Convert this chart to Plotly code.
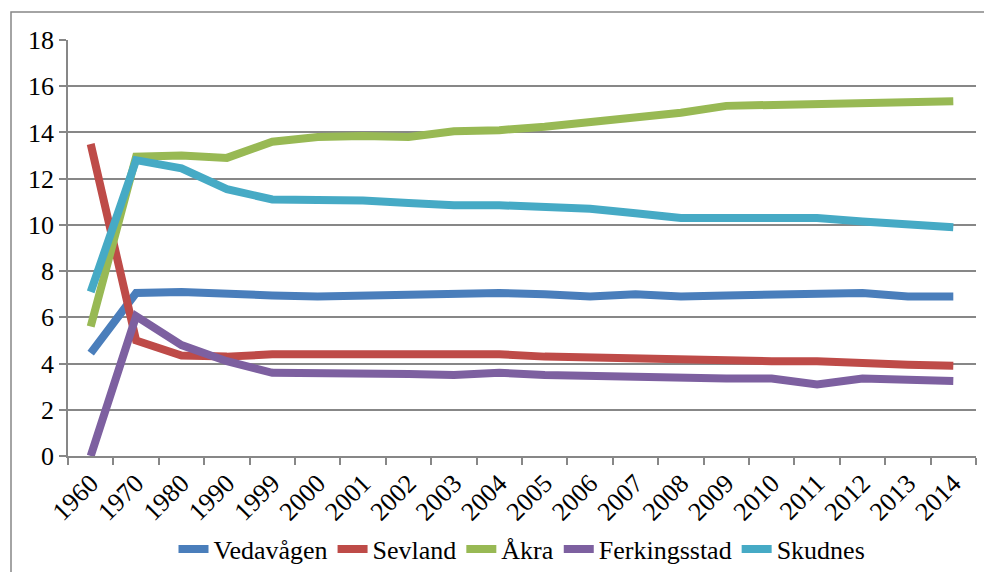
import plotly.graph_objects as go

years = ["1960", "1970", "1980", "1990", "1999", "2000", "2001", "2002", "2003", "2004",
         "2005", "2006", "2007", "2008", "2009", "2010", "2011", "2012", "2013", "2014"]

vedavagen = [4.45, 7.05, 7.1, 7.0, 6.95, 6.9, 6.95, 6.95, 7.0, 7.05,
             7.0, 6.9, 7.0, 6.9, 6.95, 7.0, 7.0, 7.05, 6.9, 6.9]
sevland = [13.5, 5.0, 4.35, 4.3, 4.4, 4.4, 4.4, 4.45, 4.4, 4.4,
           4.3, 4.25, 4.2, 4.2, 4.1, 4.1, 4.1, 4.0, 3.95, 3.9]
akra = [5.6, 12.95, 13.0, 12.9, 13.6, 13.8, 13.85, 13.8, 14.05, 14.1,
        14.25, 14.45, 14.65, 14.85, 15.15, 15.2, 15.2, 15.3, 15.3, 15.35]
ferkingsstad = [0.0, 6.05, 4.8, 4.1, 3.6, 3.6, 3.6, 3.55, 3.5, 3.6,
                3.5, 3.45, 3.4, 3.35, 3.35, 3.35, 3.1, 3.35, 3.3, 3.25]
skudnes = [7.1, 12.8, 12.45, 11.55, 11.1, 11.1, 11.05, 10.95, 10.85, 10.85,
           10.8, 10.7, 10.5, 10.3, 10.3, 10.3, 10.3, 10.15, 10.0, 9.9]

series = [
    ("Vedavågen", vedavagen, "#4A7EBB"),
    ("Sevland", sevland, "#BE4B48"),
    ("Åkra", akra, "#98B954"),
    ("Ferkingsstad", ferkingsstad, "#7D60A0"),
    ("Skudnes", skudnes, "#46AAC5"),
]

fig = go.Figure()
for name, vals, color in series:
    fig.add_trace(go.Scatter(x=years, y=vals, name=name, mode="lines",
                             line=dict(color=color, width=8)))

font = dict(family="Liberation Serif, serif", size=26, color="#000000")

fig.update_layout(
    width=984, height=572,
    margin=dict(l=68, r=8, t=40, b=116),
    paper_bgcolor="white", plot_bgcolor="white",
    font=font,
    showlegend=True,
    legend=dict(orientation="h", xref="paper", x=0.5, xanchor="center",
                yref="container", y=(572 - 549) / 572, yanchor="middle",
                font=font, tracegroupgap=0, bgcolor="rgba(0,0,0,0)"),
    xaxis=dict(type="category", range=[-0.5, len(years) - 0.5], tickangle=-45,
               automargin=False, showgrid=False, showline=True,
               linecolor="#878787", linewidth=1.5, ticks="outside", tickson="boundaries",
               ticklen=7, tickcolor="#878787", tickwidth=1.5, tickfont=font),
    yaxis=dict(range=[0, 18], dtick=2, automargin=False, showgrid=True,
               gridcolor="#878787", gridwidth=1.5,
               showline=True, linecolor="#878787", linewidth=1.5, ticks="outside",
               ticklen=7, tickcolor="#878787", tickwidth=1.5, zeroline=False,
               tickfont=font),
    shapes=[dict(type="rect", xref="paper", yref="paper",
                 x0=(11 - 68) / 908, x1=1.05, y0=-0.5, y1=1 + (40 - 12) / 416,
                 line=dict(color="#878787", width=1.5), fillcolor="rgba(0,0,0,0)",
                 layer="below")],
)

fig.write_html("out.html", config={"displayModeBar": False},
               post_script="document.body.style.margin='0';document.body.style.overflow='hidden';")
